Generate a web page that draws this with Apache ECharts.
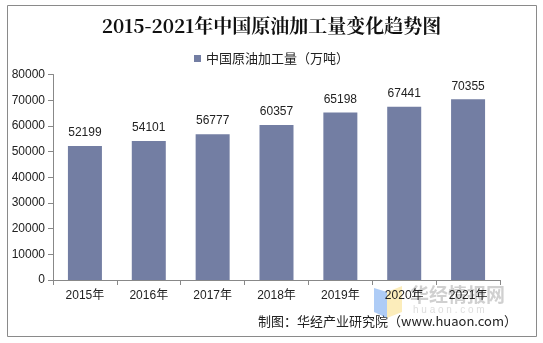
<!DOCTYPE html>
<html><head><meta charset="utf-8">
<script src="https://cdn.jsdelivr.net/npm/echarts@6/dist/echarts.min.js"></script>
<style>html,body{margin:0;padding:0;background:#fff;}#c{width:543px;height:343px;}</style>
</head><body><div id="c"></div>
<script>
const categories = ['2015年','2016年','2017年','2018年','2019年','2020年','2021年'];
const values = [52199, 54101, 56777, 60357, 65198, 67441, 70355];
const seriesName = '中国原油加工量（万吨）';
const titleText = '2015-2021年中国原油加工量变化趋势图';
const sourceText = '制图：华经产业研究院（www.huaon.com）';

const chart = echarts.init(document.getElementById('c'), null, {renderer:'canvas'});
chart.setOption({
  backgroundColor:'#fff',
  animation:false,
  title:{text:titleText, left:'center', top:11,
    textStyle:{fontFamily:'"Noto Serif CJK SC","Noto Sans CJK SC",serif', fontWeight:'bold', fontSize:19, color:'#111'}},
  legend:{top:47, left:'center', itemWidth:7, itemHeight:7, itemGap:4,
    icon:'rect',
    textStyle:{fontFamily:'"Noto Sans CJK SC",sans-serif', fontSize:13, color:'#222'}},
  grid:{left:53, right:43, top:74.5, bottom:63},
  xAxis:{type:'category', data:categories,
    axisLine:{lineStyle:{color:'#888'}},
    axisTick:{show:true, length:5, inside:false, lineStyle:{color:'#888'}},
    axisLabel:{color:'#222', fontSize:12, margin:10, fontFamily:'"Liberation Sans","Noto Sans CJK SC",sans-serif'}},
  yAxis:{type:'value', min:0, max:80000, interval:10000,
    axisLine:{show:true, lineStyle:{color:'#888'}},
    axisTick:{show:true, length:5, lineStyle:{color:'#888'}},
    splitLine:{show:false},
    axisLabel:{color:'#222', fontSize:12, margin:8, fontFamily:'"Liberation Sans",sans-serif', formatter:function(v){return String(v);}}},
  series:[{name:seriesName, type:'bar', data:values, barWidth:34,
    itemStyle:{color:'#737ea3'},
    label:{show:true, position:'top', distance:7, color:'#222', fontSize:12, fontFamily:'"Liberation Sans",sans-serif'}}],
  graphic:[
    {type:'rect', shape:{x:7.5, y:5.5, width:529, height:331}, style:{fill:null, stroke:'#8a8a8a', lineWidth:1}, z:-1},
    {type:'text', right:26, top:315, style:{text:sourceText, fontSize:13, fill:'#222', fontFamily:'"Noto Sans CJK SC",sans-serif'}},
    {type:'polygon', shape:{points:[[374,288],[387,292],[387,318],[374,312]]}, style:{fill:'rgba(120,170,240,0.6)'}},
    {type:'polygon', shape:{points:[[387,292],[402,286],[402,312],[387,318]]}, style:{fill:'rgba(250,220,120,0.5)'}},
    {type:'text', left:410, top:285, style:{text:'华经情报网', fontSize:19, fontWeight:'bold', fill:'rgba(150,150,150,0.45)', fontFamily:'"Noto Sans CJK SC",sans-serif'}},
    {type:'text', left:413, top:305, style:{text:'h u a o n . c o m', fontSize:10, fill:'rgba(170,170,170,0.4)', fontFamily:'"Liberation Sans",sans-serif'}}
  ]
});
</script></body></html>
